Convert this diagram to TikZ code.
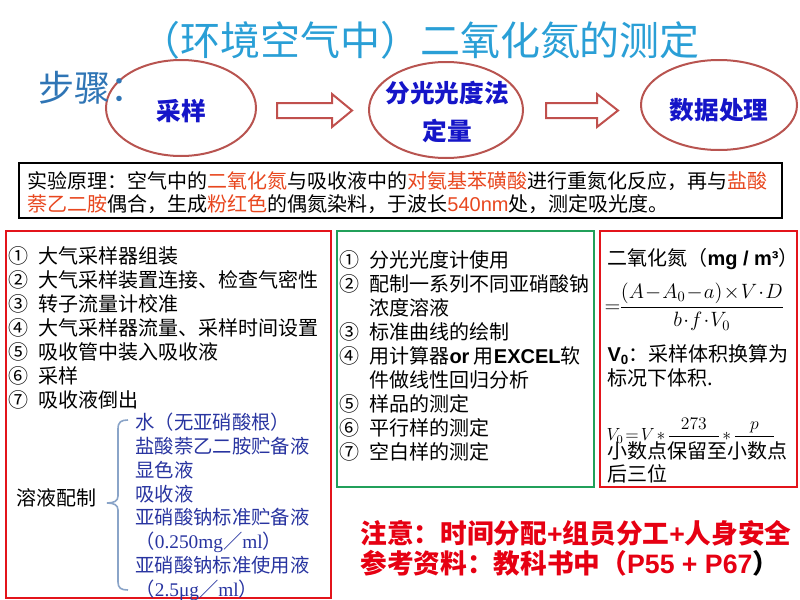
\documentclass[tikz,border=0pt]{standalone}
\usepackage{amsmath}
\usepackage{graphicx}
\usepackage{fontspec}
\newfontfamily\cjk{Noto Sans CJK SC}
\newfontfamily\arialf{Liberation Sans}
\newfontfamily\timesf{Liberation Serif}

\definecolor{titleblue}{RGB}{42,159,214}
\definecolor{stepblue}{RGB}{47,117,181}
\definecolor{ovalred}{RGB}{184,84,80}
\definecolor{ovaltext}{RGB}{21,21,200}
\definecolor{arrowred}{RGB}{192,80,77}
\definecolor{pred}{RGB}{232,71,31}
\definecolor{boxred}{RGB}{227,20,27}
\definecolor{boxgreen}{RGB}{33,160,90}
\definecolor{itemblue}{RGB}{40,52,160}
\definecolor{bracecol}{RGB}{138,164,200}
\definecolor{notered}{RGB}{230,0,18}

\newcommand{\circnum}[1]{\makebox[22.5pt][l]{#1}}

\tikzset{every picture/.style={line width=0.75pt}}
\tikzset{
  lst/.style={anchor=base west, inner sep=0pt, font=\cjk\fontsize{15}{18}\selectfont},
  blu/.style={anchor=base west, inner sep=0pt, text=itemblue, font=\cjk\fontsize{14.5}{18}\selectfont},
  oval/.style={draw=ovalred, line width=1.5pt},
  ovaltxt/.style={inner sep=0pt, text=ovaltext, font=\cjk\bfseries\fontsize{18.5}{24}\selectfont, align=center},
  blockarrow/.style={draw=arrowred, line width=1.5pt, fill=white},
  note/.style={anchor=base west, inner sep=0pt, text=notered, font=\cjk\bfseries\fontsize{20}{24}\selectfont},
  formula/.style={anchor=west, inner sep=0pt, font=\fontsize{14.4}{17}\selectfont},
}

\begin{document}
\begin{tikzpicture}[x=0.75pt,y=0.75pt,yscale=-1,xscale=1]
\useasboundingbox (0,0) rectangle (800,600);

%Shape: Ellipse
\draw [oval] (181,108) ellipse (75 and 48);
%Shape: Ellipse
\draw [oval] (446,110) ellipse (77 and 48);
%Shape: Ellipse
\draw [oval] (719,105) ellipse (78 and 45);

% Title
\node (title) [anchor=base, inner sep=0pt, text=titleblue, font=\cjk\fontsize{30}{34}\selectfont] at (420,55) {（环境空气中）二氧化氮的测定};
\node (steps) [anchor=base west, inner sep=0pt, text=stepblue, font=\cjk\fontsize{27}{30}\selectfont] at (38,101) {步骤：};

%Shape: Right Arrow
\draw [blockarrow] (277,103) -- (332,103) -- (332,94) -- (352,110.5) -- (332,127) -- (332,118) -- (277,118) -- cycle ;
%Shape: Right Arrow
\draw [blockarrow] (546,103) -- (597,103) -- (597,94) -- (618,110.5) -- (597,127) -- (597,118) -- (546,118) -- cycle ;

% Text Node
\node (sample) [ovaltxt] at (181,111) {采样};
% Text Node
\node (photo) [ovaltxt] at (447,112) {分光光度法\\[4pt]定量};
% Text Node
\node (data) [ovaltxt] at (719,110) {数据处理};

%Shape: Rectangle
\draw [line width=1.5pt] (19,163) rectangle (782,218);
% Text Node
\node (prin1) [lst] at (27,188) {实验原理：空气中的\textcolor{pred}{二氧化氮}与吸收液中的\textcolor{pred}{对氨基苯磺酸}进行重氮化反应，再与\textcolor{pred}{盐酸}};
% Text Node
\node (prin2) [lst] at (27,211) {\textcolor{pred}{萘乙二胺}偶合，生成\textcolor{pred}{粉红色}的偶氮染料，于波长\textcolor{pred}{\arialf 540nm}处，测定吸光度。};

%Shape: Rectangle
\draw [draw=boxred, line width=1.5pt] (6,231) rectangle (331,598);
%Shape: Rectangle
\draw [draw=boxgreen, line width=1.5pt] (337,231) rectangle (594,487);
%Shape: Rectangle
\draw [draw=boxred, line width=1.5pt] (600,231) rectangle (797,487);

% Text Node
\node (a1) [lst] at (8,263) {\circnum{①}大气采样器组装};
\node (a2) [lst] at (8,287) {\circnum{②}大气采样装置连接、检查气密性};
\node (a3) [lst] at (8,311) {\circnum{③}转子流量计校准};
\node (a4) [lst] at (8,335) {\circnum{④}大气采样器流量、采样时间设置};
\node (a5) [lst] at (8,359) {\circnum{⑤}吸收管中装入吸收液};
\node (a6) [lst] at (8,383) {\circnum{⑥}采样};
\node (a7) [lst] at (8,407) {\circnum{⑦}吸收液倒出};

% Text Node
\node (sol) [lst] at (16,505) {溶液配制};
%Shape: Brace
\draw [draw=bracecol, line width=1.2pt] (128,420) .. controls (121,420) and (118,422) .. (118,429) -- (118,496) .. controls (118,501) and (114,503) .. (107,503) .. controls (114,503) and (118,505) .. (118,510) -- (118,582) .. controls (118,588) and (121,590) .. (128,590) ;

% Text Node
\node (b1) [blu] at (135,429) {水（无亚硝酸根）};
\node (b2) [blu] at (135,453) {盐酸萘乙二胺贮备液};
\node (b3) [blu] at (135,477) {显色液};
\node (b4) [blu] at (135,501) {吸收液};
\node (b5) [blu] at (135,524) {亚硝酸钠标准贮备液};
\node (b6) [blu] at (135,548) {（{\timesf 0.250mg}／{\timesf ml}）};
\node (b7) [blu] at (135,572) {亚硝酸钠标准使用液};
\node (b8) [blu] at (135,596) {（{\timesf 2.5μg}／{\timesf ml}）};

% Text Node
\node (c1) [lst] at (339,267) {\circnum{①}分光光度计使用};
\node (c2) [lst] at (339,291) {\circnum{②}配制一系列不同亚硝酸钠};
\node (c2b) [lst] at (339,315) {\circnum{}浓度溶液};
\node (c3) [lst] at (339,339) {\circnum{③}标准曲线的绘制};
\node (c4) [lst] at (339,363) {\circnum{④}用计算器{\arialf\bfseries or} 用{\arialf\bfseries EXCEL}软};
\node (c4b) [lst] at (339,387) {\circnum{}件做线性回归分析};
\node (c5) [lst] at (339,411) {\circnum{⑤}样品的测定};
\node (c6) [lst] at (339,435) {\circnum{⑥}平行样的测定};
\node (c7) [lst] at (339,459) {\circnum{⑦}空白样的测定};

% Text Node
\node (d1) [lst] at (607,265) {二氧化氮（{\arialf\bfseries mg / m³}）};
\node (d2) [formula] at (604,307) {\scalebox{1.08}{\medmuskip=1mu\thickmuskip=2mu$=\!\dfrac{(A-A_0-a)\times V\cdot D}{b\cdot f\cdot V_0}$}};
\node (d3) [lst] at (607,361) {{\arialf\bfseries V\raisebox{-0.3ex}{\fontsize{10}{10}\selectfont 0}}：采样体积换算为};
\node (d4) [lst] at (607,385) {标况下体积.};
\node (d5) [formula, font=\fontsize{12}{14}\selectfont] at (606,436) {\scalebox{1.1}{\medmuskip=2mu\thickmuskip=2mu$V_0=V*\dfrac{273}{\phantom{273+t}}*\dfrac{p}{\phantom{101.3}}$}};
\node (d6) [lst] at (607,458) {小数点保留至小数点};
\node (d7) [lst] at (607,481) {后三位};

% Text Node
\node (n1) [note] at (360,543) {注意：时间分配{\arialf +}组员分工{\arialf +}人身安全};
\node (n2) [note] at (360,573) {参考资料：教科书中（{\arialf P55 + P67}\textcolor{black}{）}};

\end{tikzpicture}
\end{document}
